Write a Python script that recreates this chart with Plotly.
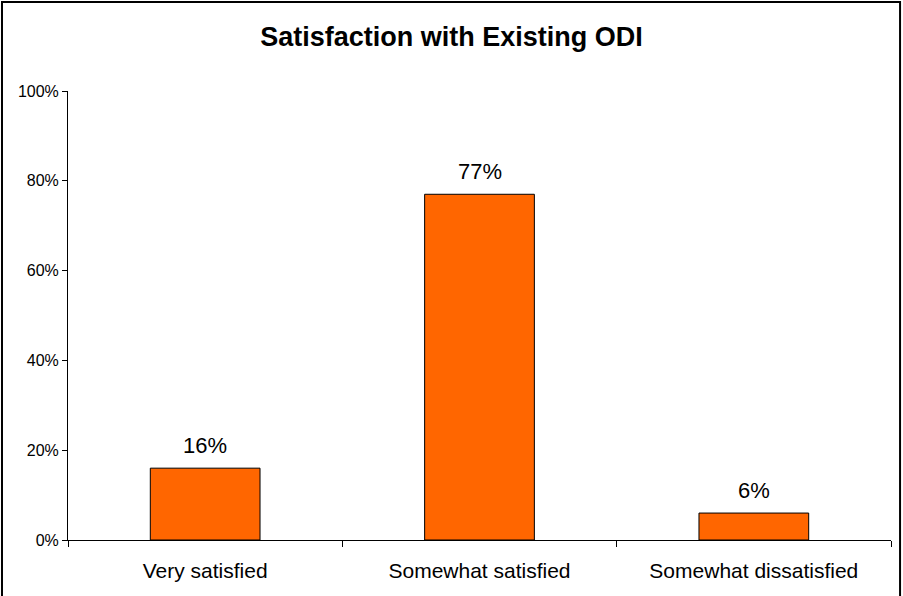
import plotly.graph_objects as go

categories = ["Very satisfied", "Somewhat satisfied", "Somewhat dissatisfied"]
values = [16, 77, 6]
value_labels = ["16%", "77%", "6%"]
y_ticks = [0, 20, 40, 60, 80, 100]
y_tick_labels = ["0%", "20%", "40%", "60%", "80%", "100%"]

FONT = "Liberation Sans, Arial, sans-serif"

fig = go.Figure(
    go.Bar(
        x=categories,
        y=values,
        marker=dict(color="#FF6600", line=dict(color="#000000", width=1)),
        width=0.4,
        hoverinfo="x+y",
    )
)

# value labels sitting above each bar
for cat, val, lab in zip(categories, values, value_labels):
    fig.add_annotation(
        x=cat,
        y=val,
        text=lab,
        showarrow=False,
        yanchor="bottom",
        yshift=8,
        font=dict(family=FONT, size=22, color="#000000"),
    )

fig.update_layout(
    width=903,
    height=596,
    margin=dict(l=68, r=12, t=91, b=56),
    paper_bgcolor="white",
    plot_bgcolor="white",
    showlegend=False,
    font=dict(family=FONT, color="#000000"),
    title=dict(
        text="<b>Satisfaction with Existing ODI</b>",
        x=0.5,
        xanchor="center",
        y=0.938,
        yanchor="middle",
        font=dict(family=FONT, size=27, color="#000000"),
    ),
    xaxis=dict(
        type="category",
        showline=True,
        linecolor="#000000",
        linewidth=1,
        ticks="outside",
        tickson="boundaries",
        ticklen=6,
        tickcolor="#000000",
        ticklabelstandoff=12,
        tickfont=dict(family=FONT, size=21, color="#000000"),
        showgrid=False,
        zeroline=False,
    ),
    yaxis=dict(
        range=[0, 100],
        tickvals=y_ticks,
        ticktext=y_tick_labels,
        showline=True,
        linecolor="#000000",
        linewidth=1,
        ticks="outside",
        ticklen=5,
        tickcolor="#000000",
        tickfont=dict(family=FONT, size=16, color="#000000"),
        showgrid=False,
        zeroline=False,
    ),
    shapes=[
        dict(
            type="rect",
            xref="paper",
            yref="paper",
            x0=-0.0802,
            x1=1.011,
            y0=-0.13,
            y1=1.198,
            line=dict(color="#000000", width=2),
            fillcolor="rgba(0,0,0,0)",
            layer="above",
        )
    ],
)

fig.write_html("out.html")
